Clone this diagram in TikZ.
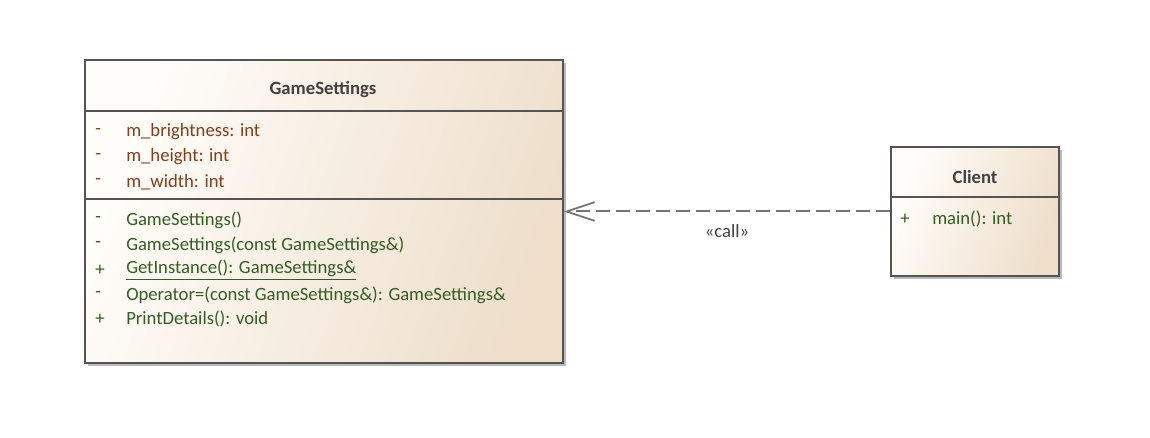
\documentclass[tikz,border=0pt]{standalone}
\usepackage{fontspec}
\setmainfont{Carlito}
\usetikzlibrary{arrows.meta,shadows}

\definecolor{attrbrown}{RGB}{128,64,32}
\definecolor{opgreen}{RGB}{52,92,36}
\definecolor{titlegray}{RGB}{64,64,64}
\definecolor{boxline}{RGB}{84,84,84}
\definecolor{boxlight}{RGB}{255,253,250}
\definecolor{boxdark}{RGB}{238,222,202}

\tikzset{
	classbox/.style={draw=boxline, line width=1.4pt, rectangle,
		left color=boxlight, right color=boxdark, shading angle=70,
		drop shadow={shadow xshift=2.5pt, shadow yshift=-2.5pt, fill=gray!55, opacity=1}},
	classname/.style={font=\fontsize{14pt}{16pt}\selectfont\bfseries, text=titlegray},
	attr/.style={anchor=west, font=\fontsize{14pt}{16pt}\selectfont, text=attrbrown, inner sep=0pt},
	oper/.style={anchor=west, font=\fontsize{14pt}{16pt}\selectfont, text=opgreen, inner sep=0pt},
	sepline/.style={draw=boxline, line width=1.4pt},
	dep/.style={draw=gray!90!black, line width=1.5pt, dash pattern=on 10.5pt off 4.5pt,
		-{Straight Barb[length=21pt, width=14pt, line width=1.3pt]}}
}

\begin{document}
\begin{tikzpicture}[x=0.75pt, y=-0.75pt]
	\useasboundingbox (0,0) rectangle (1150,438);

	% GameSettings class
	\node[classbox, minimum width=358.5pt, minimum height=227.25pt] (gs) at (324,211.5) {};
	\node[classname] (gstitle) at (323,90) {GameSettings};
	\draw[sepline] (gs.west |- 0,111) -- (gs.east |- 0,111);
	\draw[sepline] (gs.west |- 0,199) -- (gs.east |- 0,199);

	%attributes
	\node[attr] (a1v) at (95,132) {-};
	\node[attr] (a1) at (126,132) {m\textunderscore brightness: int};
	\node[attr] (a2v) at (95,157) {-};
	\node[attr] (a2) at (126,157) {m\textunderscore height: int};
	\node[attr] (a3v) at (95,182) {-};
	\node[attr] (a3) at (126,182) {m\textunderscore width: int};

	%operations
	\node[oper] (o1v) at (95,220) {-};
	\node[oper] (o1) at (126,220) {GameSettings()};
	\node[oper] (o2v) at (95,245) {-};
	\node[oper] (o2) at (126,245) {GameSettings(const GameSettings\&)};
	\node[oper] (o3v) at (95,270) {+};
	\node[oper] (o3) at (126,270) {\underline{GetInstance(): GameSettings\&}};
	\node[oper] (o4v) at (95,295) {-};
	\node[oper] (o4) at (126,295) {Operator=(const GameSettings\&): GameSettings\&};
	\node[oper] (o5v) at (95,319) {+};
	\node[oper] (o5) at (126,319) {PrintDetails(): void};

	% Client class
	\node[classbox, minimum width=126pt, minimum height=96.75pt] (cl) at (975,211.5) {};
	\node[classname] (cltitle) at (975,177) {Client};
	\draw[sepline] (cl.west |- 0,197) -- (cl.east |- 0,197);
	\node[oper] (c1v) at (900,219) {+};
	\node[oper] (c1) at (932,219) {main(): int};

	% dependency
	\draw[dep] (cl.west) -- node[pos=0.5, below=6pt, font=\fontsize{14pt}{16pt}\selectfont, text=titlegray] (calllbl) {«call»} (gs.east |- cl.west);
\end{tikzpicture}
\end{document}
